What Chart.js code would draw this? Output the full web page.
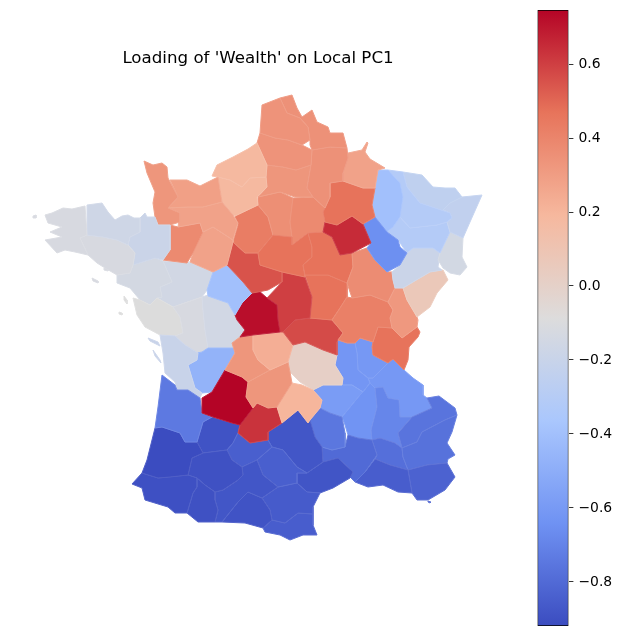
<!DOCTYPE html>
<html><head><meta charset="utf-8">
<script src="https://cdn.jsdelivr.net/npm/chart.js@4/dist/chart.umd.js"></script>
<style>html,body{margin:0;padding:0;background:#fff}#wrap{position:relative;width:621px;height:636px;overflow:hidden}canvas{position:absolute;top:0}</style>
</head><body><div id="wrap"><canvas id="map" width="516" height="636" style="left:0"></canvas><canvas id="bar" width="105" height="636" style="left:516px"></canvas></div>
<script>
const chartTitle = "Loading of 'Wealth' on Local PC1";
const colorTicksStep = 0.2;
const colorMin = -0.919;
const colorMax = 0.746;
const coolwarm = ['#3b4cc0','#6f92f3','#aac7fd','#dddcdc','#f6b89e','#e7745b','#b40426'];

const departments = ['Finistère','Côtes-d’Armor','Morbihan','Ille-et-Vilaine','Manche','Calvados','Orne','Mayenne','Sarthe','Seine-Maritime','Eure','Pas-de-Calais','Nord','Somme','Aisne','Oise','Ardennes','Marne','Aube','Haute-Marne','Meuse','Meurthe-et-Moselle','Moselle','Bas-Rhin','Vosges','Haut-Rhin','Haute-Saône','Doubs','Jura','Côte-d’Or','Saône-et-Loire','Ain','Yonne','Loiret','Seine-et-Marne','Yvelines','Paris','Eure-et-Loir','Loir-et-Cher','Indre-et-Loire','Indre','Cher','Nièvre','Allier','Creuse','Haute-Vienne','Corrèze','Cantal','Puy-de-Dôme','Dordogne','Lot','Gironde','Charente-Maritime','Charente','Vienne','Deux-Sèvres','Vendée','Loire-Atlantique','Maine-et-Loire','Landes','Pyrénées-Atlantiques','Hautes-Pyrénées','Gers','Haute-Garonne','Ariège','Tarn-et-Garonne','Lot-et-Garonne','Tarn','Aveyron','Aude','Pyrénées-Orientales','Hérault','Lozère','Gard','Bouches-du-Rhône','Var','Alpes-Maritimes','Alpes-de-Haute-Provence','Vaucluse','Drôme','Ardèche','Haute-Loire','Loire','Rhône','Isère','Ré','Oléron','Belle-Île','Noirmoutier','Yeu','Ouessant','Groix','Hyères'];

const loadings = [-0.12,-0.17,-0.12,-0.19,0.33,0.29,0.28,0.38,0.28,0.18,0.18,0.34,0.35,0.34,0.35,0.33,0.28,0.47,0.65,-0.65,-0.4,-0.31,-0.25,-0.24,-0.31,-0.145,-0.19,0.07,0.32,0.37,0.42,0.47,0.47,0.47,0.38,0.36,0.36,0.43,0.55,-0.4,0.72,0.6,0.47,0.57,0.23,0.33,0.33,0.2,0.01,0.75,0.63,-0.74,-0.2,-0.47,-0.15,-0.12,-0.09,-0.14,-0.15,-0.919,-0.905,-0.9,-0.9,-0.88,-0.89,-0.845,-0.89,-0.845,-0.88,-0.86,-0.85,-0.885,-0.75,-0.8,-0.85,-0.83,-0.77,-0.76,-0.78,-0.69,-0.63,-0.59,-0.62,-0.61,-0.61,-0.2,-0.2,-0.12,-0.09,-0.09,-0.12,-0.12,-0.83];

// Outlines in map units: [x, y, x, y, ...]
const outlines = [
[45,215,52,213,63,208,72,209,85,206,87,235,80,238,88,255,75,252,65,250,57,253,45,240,62,237,50,232,62,227,48,223],
[87,205,102,203,108,212,115,220,122,216,128,215,134,218,140,218,140,232,130,237,128,245,117,240,103,237,87,235],
[80,238,87,235,103,237,117,240,128,245,135,253,133,265,130,273,117,275,105,268,97,263,88,255],
[140,218,145,213,147,217,155,217,158,225,170,225,170,250,163,260,155,258,133,265,135,253,128,245,130,237,140,232],
[144,161,153,165,162,163,167,167,168,178,178,197,168,208,180,213,180,222,170,225,158,225,155,217,153,203,155,192,147,173],
[170,180,187,180,200,186,212,180,218,177,222,202,203,207,187,207,168,208,178,197],
[168,208,187,207,203,207,222,202,233,215,238,223,233,240,213,227,203,232,200,223,178,227,180,213],
[170,225,178,227,200,223,203,232,193,253,187,263,163,260,170,250],
[203,232,213,227,233,240,233,242,227,265,213,272,190,262,193,253],
[212,176,217,165,233,157,248,149,257,143,267,165,266,177,250,178,242,187,230,180,218,177],
[218,177,230,180,242,187,250,178,266,177,267,187,257,197,258,205,235,216,233,215,222,202],
[262,105,280,98,287,113,300,118,308,127,310,140,302,145,288,140,275,138,260,133],
[280,98,292,95,297,108,302,117,312,110,317,122,328,127,330,133,343,133,347,148,330,147,312,150,310,145,310,140,308,127,300,118,287,113],
[260,133,275,138,288,140,302,145,312,150,311,165,296,170,283,167,267,165,257,143],
[312,150,330,147,347,148,348,158,343,173,343,181,330,183,330,197,325,208,313,197,307,188,311,165],
[267,165,283,167,296,170,311,165,307,188,313,197,295,197,280,192,258,197,267,187,266,177],
[348,153,362,150,367,142,368,143,365,152,370,159,385,168,378,170,375,188,363,188,343,181,343,173],
[330,183,343,181,363,188,375,188,372,205,375,217,363,224,352,216,337,225,325,222,323,212,325,208,330,197],
[325,222,337,225,352,216,363,224,371,243,352,253,340,255,332,237,323,232],
[375,217,387,232,398,240,400,247,407,253,400,265,387,272,375,260,367,248,371,243,363,224],
[378,170,388,170,400,183,403,197,400,217,393,227,387,232,375,217,372,205,375,188],
[388,170,403,172,407,187,420,203,450,213,452,218,447,222,437,225,410,228,400,217,403,197,400,183],
[403,172,422,175,433,187,445,188,455,188,462,197,450,203,443,210,450,213,420,203,407,187],
[462,197,482,195,470,222,463,238,450,232,447,222,452,218,450,213,443,210,450,203],
[393,227,400,217,410,228,437,225,447,222,450,232,440,253,433,248,413,248,407,253,398,240,387,232],
[450,232,463,238,462,257,467,267,460,275,450,273,443,268,438,260,440,253],
[407,253,413,248,433,248,440,253,438,267,442,270,430,272,413,282,403,288,395,288,393,280,392,272,400,265],
[403,288,413,282,430,272,443,270,448,280,437,293,430,307,417,317,407,300],
[395,288,403,288,407,300,417,317,418,320,417,327,402,338,392,328,390,318,393,310,388,302],
[352,253,367,248,375,260,387,272,392,272,393,280,395,288,388,302,370,295,352,298,347,283,353,267],
[347,297,352,298,370,295,388,302,393,310,392,328,378,327,373,342,360,338,355,343,347,343,338,340,343,333,332,320,340,308],
[378,327,392,328,402,338,417,327,420,332,418,337,409,347,408,360,404,370,393,359,388,363,373,355,372,347,373,342],
[308,233,323,232,332,237,340,255,352,253,353,267,347,283,328,275,305,275,303,265,312,257,312,247],
[258,253,273,235,292,237,292,245,308,233,312,247,312,257,303,265,305,277,282,272,260,265],
[293,198,313,197,325,208,323,212,325,222,323,232,308,233,292,245,292,237,290,222],
[258,197,280,192,293,198,290,222,292,237,273,235,268,217,258,205],
[279,208,285,203,293,203,293,216,285,213],
[235,216,258,205,268,217,273,235,258,253,245,253,233,242,238,225],
[233,242,245,253,258,253,260,265,282,272,282,282,268,290,258,292,252,293,243,282,227,265],
[213,272,227,265,243,282,252,293,242,303,235,315,228,303,208,296,207,290],
[252,293,258,290,267,298,277,305,278,320,280,332,253,335,240,337,245,330,237,320,235,315,242,303],
[267,298,282,282,282,272,305,277,312,297,310,318,295,320,283,332,280,332,278,320,277,305],
[305,275,328,275,347,283,347,297,340,308,332,320,310,318,312,297],
[283,332,295,320,310,318,332,320,343,333,338,340,337,342,337,355,323,350,305,342,293,345],
[253,335,280,332,283,332,293,345,288,362,270,370,258,360,253,350],
[232,343,240,337,253,335,253,350,258,360,270,370,248,382,242,377,225,370,235,353],
[248,382,270,370,288,362,290,372,292,383,277,407,268,408,257,403,253,408,246,397],
[292,383,302,385,313,390,322,400,320,408,310,420,308,423,298,410,282,423,277,407],
[288,362,293,345,305,342,323,350,337,355,335,365,343,378,342,385,323,385,313,390,300,382,290,372],
[225,370,242,377,248,382,246,397,253,408,240,425,232,423,213,417,202,413,202,398,212,392],
[253,408,257,403,268,408,277,407,282,423,268,432,268,440,250,443,238,433,240,425],
[162,375,175,385,177,390,188,390,200,398,202,413,212,417,203,422,197,442,185,442,180,433,162,427,155,428,158,407],
[160,335,175,336,185,345,198,353,197,360,188,365,195,388,202,393,200,398,188,390,177,390,175,382,165,373,163,353],
[197,353,202,352,208,348,235,348,235,353,225,370,212,392,202,393,195,388,188,365,197,360],
[202,297,208,295,228,303,235,315,237,320,245,330,240,337,232,343,235,348,208,348,205,330,203,310],
[173,307,202,297,203,310,205,330,208,348,202,352,197,353,185,345,175,336,183,333,180,317],
[133,298,140,300,150,305,157,298,173,307,180,317,183,333,175,336,160,335,145,327,137,315],
[117,283,117,275,130,273,133,265,155,258,163,261,172,282,160,287,162,297,157,298,150,305,140,300,130,288],
[163,261,187,263,190,262,213,272,207,290,202,297,173,307,157,298,162,297,160,287,172,282],
[155,428,162,427,180,433,185,442,197,442,203,453,192,458,188,475,170,477,158,478,142,473,147,460,152,440],
[132,484,142,473,158,478,188,475,197,478,197,487,193,493,187,513,175,513,168,507,145,500,142,488],
[197,478,205,485,215,492,215,500,218,510,215,522,198,522,187,513,193,493,197,487],
[192,458,203,453,227,450,232,460,242,467,243,475,238,480,223,490,215,492,205,485,197,478,188,475],
[215,492,223,490,238,480,243,475,242,467,257,460,263,475,278,487,262,498,248,492,238,502,230,512,222,522,215,522,218,510,215,500],
[230,512,238,502,248,492,262,498,270,510,272,520,263,528,245,523,222,522],
[227,450,233,443,238,433,250,443,268,440,272,447,257,460,242,467,232,460],
[203,422,212,417,232,423,240,425,238,433,233,443,227,450,203,453,197,442],
[257,460,272,447,283,450,297,467,307,473,297,473,297,483,278,487,263,475],
[268,432,282,423,298,410,308,423,310,420,315,437,322,447,323,462,307,473,297,467,283,450,272,447,268,440],
[262,498,278,487,297,483,307,492,320,493,313,507,313,514,298,513,285,523,272,520,270,510],
[272,520,285,523,298,513,313,514,313,525,317,535,303,535,290,540,280,535,265,532,263,528],
[297,473,307,473,323,462,338,458,353,472,350,478,333,488,320,493,307,492,297,483],
[310,420,320,408,330,413,342,417,345,433,345,447,332,450,322,447,315,437],
[322,447,332,450,345,447,348,435,358,438,372,440,377,455,370,465,365,472,355,482,350,477,353,472,338,458,323,462],
[355,482,365,472,375,459,390,465,408,470,412,493,398,492,383,485,368,487],
[408,470,427,465,447,463,455,477,445,490,428,500,417,500,412,493],
[445,420,457,415,452,432,447,443,455,455,448,459,447,463,427,465,408,470,403,457,402,448,417,442,422,432],
[412,417,432,408,427,398,439,396,447,402,455,408,457,415,445,420,422,432,417,442,402,448,398,433,405,425],
[372,440,380,438,395,443,402,448,403,457,408,470,390,465,375,459,377,455],
[375,388,383,387,388,398,399,400,400,417,412,417,405,425,398,433,402,448,395,443,380,438,372,440,371,430,377,407],
[370,383,375,388,377,407,371,430,372,440,358,438,348,435,345,425,342,417,360,395,363,392],
[313,390,323,385,342,385,352,385,363,392,360,395,342,417,330,413,320,408,322,400],
[337,342,338,340,347,343,355,343,357,353,358,370,368,378,370,383,363,392,352,385,342,385,343,378,335,365,337,355],
[355,343,360,338,373,342,372,347,373,355,388,363,373,378,368,378,358,370,357,353],
[373,378,388,363,393,359,404,370,413,378,423,385,423,395,427,398,432,408,412,417,400,417,399,400,388,398,383,387,375,388,370,383,368,378],
[148,338,158,342,160,346,150,341],
[153,350,160,360,161,363,155,356],
[92,278,98,281,98,283,93,281],
[124,296,127,300,127,304,124,300],
[119,312,122,313,122,315,119,314],
[33,216,36,215,36,218,33,218],
[104,268,108,268,108,271,104,270],
[428,501,431,502,430,503,428,502]
];

function hexRgb(h){return [1,3,5].map(i=>parseInt(h.slice(i,i+2),16));}
function rgbAt(t){
  t=Math.max(0,Math.min(1,t));
  const p=t*(coolwarm.length-1), i=Math.min(coolwarm.length-2,Math.floor(p)), f=p-i;
  const a=hexRgb(coolwarm[i]), b=hexRgb(coolwarm[i+1]);
  return a.map((c,k)=>Math.round(c+(b[k]-c)*f));
}
const valueT = v => (v-colorMin)/(colorMax-colorMin);
const fillOf = v => 'rgb('+rgbAt(valueT(v)).join(',')+')';
const edgeOf = v => 'rgb('+rgbAt(valueT(v)).map(c=>Math.round(c+(255-c)*0.1)).join(',')+')';
function toPoints(flat){
  const pts=[];
  for(let i=0;i<flat.length;i+=2) pts.push({x:flat[i],y:flat[i+1]});
  pts.push({x:flat[0],y:flat[1]});
  return pts;
}

new Chart(document.getElementById('map'),{
  type:'scatter',
  data:{datasets:outlines.map((o,i)=>({
    label:departments[i],
    data:toPoints(o),
    showLine:true,
    fill:'shape',
    tension:0,
    pointRadius:0,
    pointHoverRadius:0,
    backgroundColor:fillOf(loadings[i]),
    borderColor:edgeOf(loadings[i]),
    borderWidth:1
  }))},
  options:{
    responsive:false,animation:false,
    layout:{padding:0},
    events:[],
    plugins:{
      legend:{display:false},tooltip:{enabled:false},
      title:{display:true,text:chartTitle,color:'#000',
        font:{family:'DejaVu Sans',size:16.67,weight:'normal',lineHeight:1.2},
        padding:{top:49,bottom:21}}
    },
    scales:{
      x:{type:'linear',display:false,min:0,max:516},
      y:{type:'linear',display:false,min:90,max:636,reverse:true}
    }
  }
});

new Chart(document.getElementById('bar'),{
  type:'bar',
  data:{labels:['Loading'],datasets:[{
    data:[[colorMin,colorMax]],
    barPercentage:1,categoryPercentage:1,
    borderColor:'#000',borderWidth:1,borderSkipped:false,
    backgroundColor(c){
      const a=c.chart.chartArea;
      if(!a) return '#888';
      const g=c.chart.ctx.createLinearGradient(0,a.bottom,0,a.top);
      coolwarm.forEach((h,i)=>g.addColorStop(i/(coolwarm.length-1),h));
      return g;
    }
  }]},
  options:{
    responsive:false,animation:false,events:[],
    layout:{padding:{left:21.5,top:10,bottom:10,right:0}},
    plugins:{legend:{display:false},tooltip:{enabled:false}},
    scales:{
      x:{display:false},
      y:{position:'right',min:colorMin,max:colorMax,
        afterFit(s){s.width=52.5;s.paddingTop=0;s.paddingBottom=0;},
        border:{display:false},
        grid:{drawOnChartArea:false,drawTicks:true,tickLength:4.9,tickColor:'#000',tickWidth:0.8},
        ticks:{stepSize:colorTicksStep,includeBounds:false,color:'#000',padding:5,
          font:{family:'DejaVu Sans',size:13.9},
          callback(v){const r=Math.round(v*10)/10;return (r<0?'\u2212':'')+Math.abs(r).toFixed(1);}}
      }
    }
  }
});
</script></body></html>
